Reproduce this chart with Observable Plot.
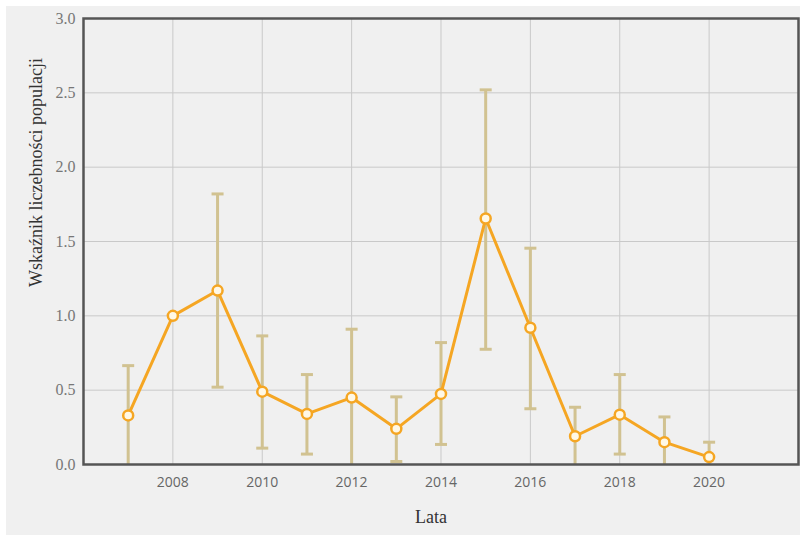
<!DOCTYPE html>
<html>
<head>
<meta charset="utf-8">
<script src="https://cdn.jsdelivr.net/npm/d3@7"></script>
<script src="https://cdn.jsdelivr.net/npm/@observablehq/plot@0.6"></script>
<style>
  html, body { margin: 0; padding: 0; background: #ffffff; }
  #panel { position: absolute; left: 6px; top: 6px; width: 794px; height: 529px; background: #f0f0f0; }
  #panel svg .yticks text, #panel svg .serif text { font-family: "Liberation Serif", serif; }
</style>
</head>
<body>
<div id="panel"></div>
<script>
const years = [2007, 2008, 2009, 2010, 2011, 2012, 2013, 2014, 2015, 2016, 2017, 2018, 2019, 2020];
const index = [0.33, 1.0, 1.17, 0.49, 0.34, 0.45, 0.24, 0.475, 1.655, 0.92, 0.19, 0.335, 0.15, 0.05];
const upper = [0.665, null, 1.82, 0.865, 0.605, 0.91, 0.455, 0.82, 2.52, 1.455, 0.385, 0.605, 0.32, 0.15];
// null = lower bound falls below the axis (not visible)
const lower = [null, null, 0.52, 0.11, 0.07, null, 0.02, 0.135, 0.775, 0.375, null, 0.07, null, null];
const xTicks = [2008, 2010, 2012, 2014, 2016, 2018, 2020];
const yTicks = [0, 0.5, 1.0, 1.5, 2.0, 2.5, 3.0];
const xLabel = "Lata";
const yLabel = "Wskaźnik liczebności populacji";

const data = years.map((year, i) => ({year, v: index[i], hi: upper[i], lo: lower[i]}));
const bars = data.filter(d => d.hi != null);
const hiCaps = bars;
const loCaps = bars.filter(d => d.lo != null);

const capSymbol = {
  draw(ctx, size) {
    const w = Math.sqrt(size / Math.PI);
    ctx.moveTo(-w, 0);
    ctx.lineTo(w, 0);
  }
};

const errColor = "#d1c291";
const lineColor = "#f5a623";

const chart = Plot.plot({
  width: 794,
  height: 529,
  marginLeft: 77,
  marginTop: 12,
  marginRight: 2,
  marginBottom: 71,
  style: {background: "transparent", fontFamily: "Liberation Serif", fontSize: "14px", color: "#777"},
  x: {domain: [2006, 2022]},
  y: {domain: [0, 3]},
  marks: [
    Plot.gridX(xTicks, {stroke: "#c9c9c9", strokeOpacity: 1, strokeWidth: 1}),
    Plot.gridY(yTicks, {stroke: "#c9c9c9", strokeOpacity: 1, strokeWidth: 1}),
    Plot.axisX(xTicks, {tickSize: 0, tickPadding: 13, tickFormat: d => String(d), label: null, fill: "#666", fontSize: 14, fontFamily: "Open Sans"}),
    Plot.axisY(yTicks, {tickSize: 0, tickPadding: 8, tickFormat: d3.format(".1f"), label: null, fill: "#777", fontSize: 16, fontFamily: "Liberation Serif", className: "yticks"}),
    Plot.ruleX(bars, {x: "year", y1: d => d.lo ?? 0, y2: "hi", stroke: errColor, strokeWidth: 3}),
    Plot.dot(hiCaps, {x: "year", y: "hi", symbol: capSymbol, r: 6, stroke: errColor, strokeWidth: 3, fill: "none"}),
    Plot.dot(loCaps, {x: "year", y: "lo", symbol: capSymbol, r: 6, stroke: errColor, strokeWidth: 3, fill: "none"}),
    Plot.line(data, {x: "year", y: "v", stroke: lineColor, strokeWidth: 3}),
    Plot.dot(data, {x: "year", y: "v", r: 5, stroke: lineColor, strokeWidth: 2.5, fill: "#fff8e6"}),
    Plot.frame({stroke: "#555", strokeWidth: 2.5}),
    Plot.text([xLabel], {frameAnchor: "bottom", dy: 58, dx: -10, fontSize: 18, fill: "#333", fontFamily: "Liberation Serif", className: "serif"}),
    Plot.text([yLabel], {frameAnchor: "left", textAnchor: "middle", rotate: -90, dx: -47, dy: -69, fontSize: 18, fill: "#333", fontFamily: "Liberation Serif", className: "serif"})
  ]
});
document.getElementById("panel").appendChild(chart);
</script>
</body>
</html>
